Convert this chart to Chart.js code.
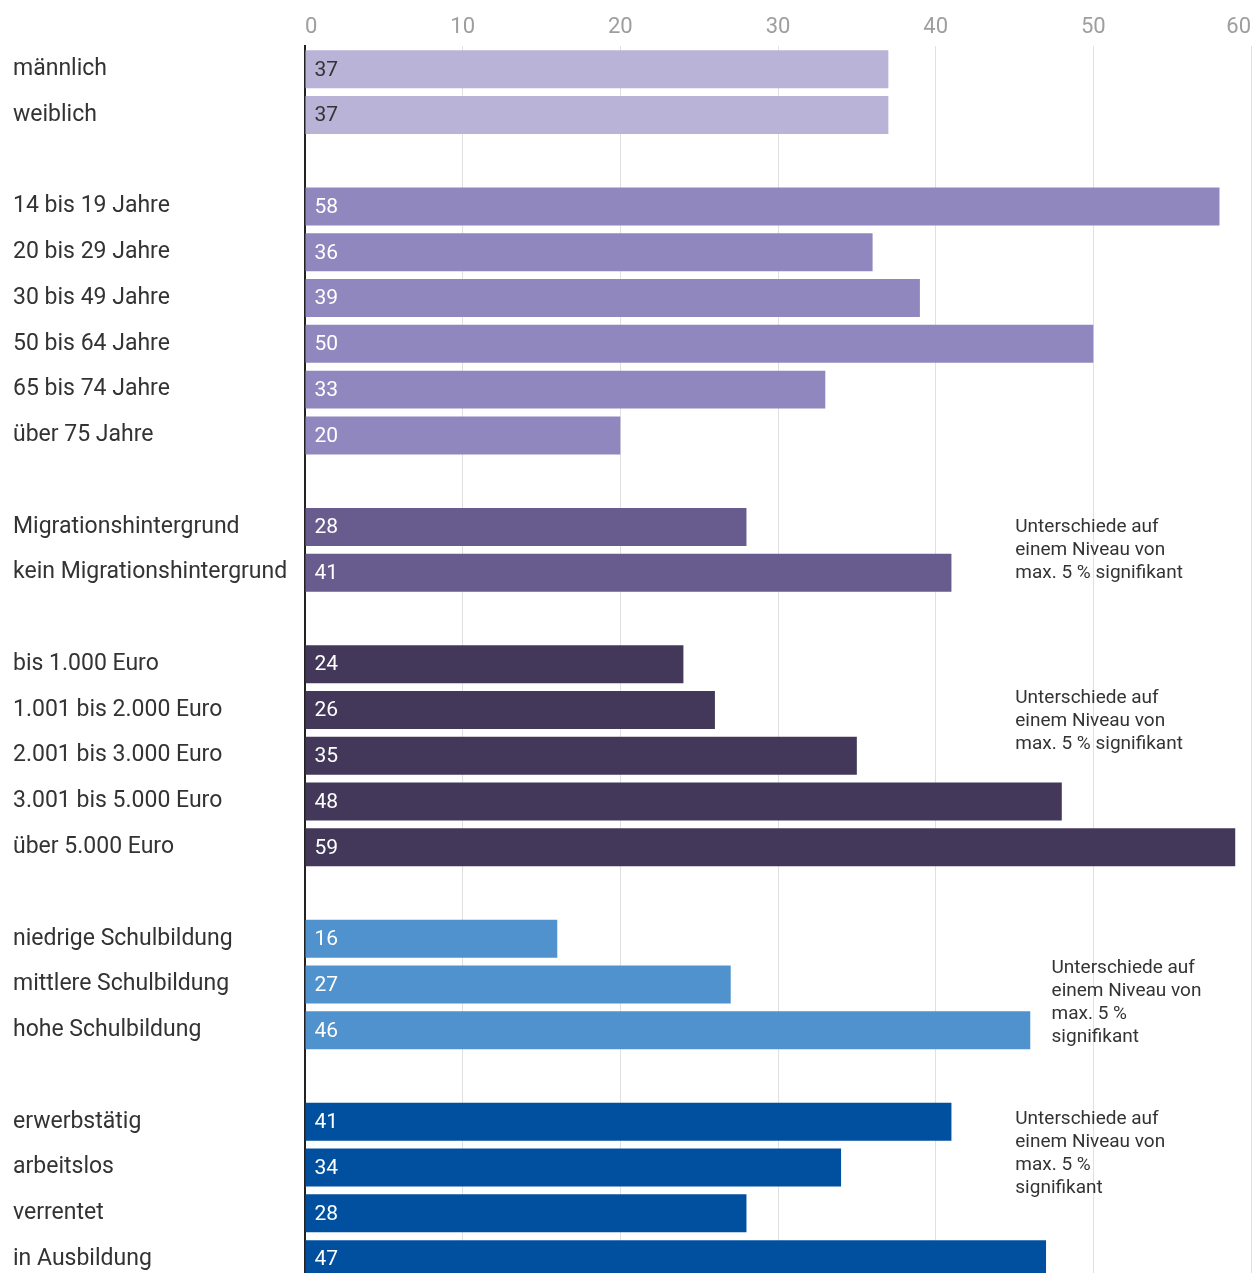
<!DOCTYPE html>
<html lang="de">
<head>
<meta charset="utf-8">
<script src="https://cdn.jsdelivr.net/npm/chart.js@4.4.0/dist/chart.umd.min.js"></script>
<style>
  html, body { margin: 0; padding: 0; background: #fff; overflow: hidden; }
  #wrap { position: relative; width: 1252px; height: 1282px; }
</style>
</head>
<body>
<div id="wrap"><canvas id="chart"></canvas></div>
<script>
// Kategorien (leere Einträge = Abstand zwischen Gruppen)
const categories = [
    "männlich", "weiblich", "",
    "14 bis 19 Jahre", "20 bis 29 Jahre", "30 bis 49 Jahre", "50 bis 64 Jahre", "65 bis 74 Jahre", "über 75 Jahre", "",
    "Migrationshintergrund", "kein Migrationshintergrund", "",
    "bis 1.000 Euro", "1.001 bis 2.000 Euro", "2.001 bis 3.000 Euro", "3.001 bis 5.000 Euro", "über 5.000 Euro", "",
    "niedrige Schulbildung", "mittlere Schulbildung", "hohe Schulbildung", "",
    "erwerbstätig", "arbeitslos", "verrentet", "in Ausbildung"
];

const values = [
    37, 37, null,
    58, 36, 39, 50, 33, 20, null,
    28, 41, null,
    24, 26, 35, 48, 59, null,
    16, 27, 46, null,
    41, 34, 28, 47
];

// Gruppe je Kategorie -> Farbe
const groups = [
    0, 0, null,
    1, 1, 1, 1, 1, 1, null,
    2, 2, null,
    3, 3, 3, 3, 3, null,
    4, 4, 4, null,
    5, 5, 5, 5
];

const groupColors = ["#b9b3d7", "#9087be", "#675c8d", "#43385a", "#4f92cd", "#00509f"];
const groupTextColors = ["#333333", "#ffffff", "#ffffff", "#ffffff", "#ffffff", "#ffffff"];

const xTicks = [0, 10, 20, 30, 40, 50, 60];

// Hinweise rechts
const noteLines = [
    ["Unterschiede auf", "einem Niveau von", "max. 5 % signifikant"],
    ["Unterschiede auf", "einem Niveau von", "max. 5 % signifikant"],
    ["Unterschiede auf", "einem Niveau von", "max. 5 %", "signifikant"],
    ["Unterschiede auf", "einem Niveau von", "max. 5 %", "signifikant"]
];

const FONT = "Roboto, 'Noto Sans', sans-serif";

// Werte in die Balken schreiben
const valueLabels = {
    id: "valueLabels",
    afterDatasetsDraw(chart) {
        const ctx = chart.ctx;
        const meta = chart.getDatasetMeta(0);
        ctx.save();
        ctx.font = "21px " + FONT;
        ctx.textAlign = "left";
        ctx.textBaseline = "middle";
        meta.data.forEach((bar, i) => {
            if (values[i] == null) return;
            ctx.fillStyle = groupTextColors[groups[i]];
            ctx.fillText(String(values[i]), bar.base + 9, bar.y + 1);
        });
        ctx.restore();
    }
};

// Signifikanz-Hinweise
const notes = {
    id: "notes",
    afterDraw(chart) {
        const ctx = chart.ctx;
        const x = chart.scales.x;
        const y = chart.scales.y;
        // x-Wert und Zeilenposition je Hinweis
        const layout = [
            { xv: 45.05, row: 10.5 },
            { xv: 45.05, row: 14.25 },
            { xv: 47.35, row: 20.4 },
            { xv: 45.05, row: 23.7 }
        ];
        ctx.save();
        ctx.font = "19px " + FONT;
        ctx.fillStyle = "#333333";
        ctx.textAlign = "left";
        ctx.textBaseline = "middle";
        noteLines.forEach((lines, k) => {
            const l = layout[k];
            const px = x.getPixelForValue(l.xv);
            const r0 = Math.floor(l.row);
            const cy = y.getPixelForValue(r0) + (l.row - r0) * (y.getPixelForValue(r0 + 1) - y.getPixelForValue(r0));
            const lh = 23;
            const top = cy - (lines.length - 1) * lh / 2;
            lines.forEach((t, j) => ctx.fillText(t, px, top + j * lh));
        });
        ctx.restore();
    }
};

new Chart(document.getElementById("chart"), {
    type: "bar",
    data: {
        labels: categories,
        datasets: [{
            data: values,
            backgroundColor: groups.map(g => g == null ? "transparent" : groupColors[g]),
            borderWidth: 0,
            categoryPercentage: 1,
            barPercentage: 0.83
        }]
    },
    options: {
        indexAxis: "y",
        responsive: true,
        maintainAspectRatio: false,
        animation: false,
        layout: { padding: { left: 13, right: 1, top: 8, bottom: 0 } },
        scales: {
            x: {
                position: "top",
                min: 0,
                max: 60,
                afterBuildTicks: s => { s.ticks = xTicks.map(v => ({ value: v })); },
                afterFit: s => { s.paddingLeft = 0; s.paddingRight = 0; },
                grid: { color: "#e0e0e0", lineWidth: 1, drawTicks: false },
                border: { display: false },
                ticks: {
                    color: "#9e9e9e",
                    font: { family: FONT, size: 22 },
                    padding: 6,
                    align: "inner"
                }
            },
            y: {
                afterFit: s => { s.width = 292; s.paddingTop = 0; s.paddingBottom = 0; },
                grid: { display: false, drawTicks: false },
                border: { display: true, color: "#222222", width: 2 },
                ticks: {
                    color: "#333333",
                    font: { family: FONT, size: 23 },
                    crossAlign: "far",
                    padding: 0,
                    autoSkip: false
                }
            }
        },
        plugins: {
            legend: { display: false },
            tooltip: { enabled: false }
        }
    },
    plugins: [valueLabels, notes]
});
</script>
</body>
</html>
